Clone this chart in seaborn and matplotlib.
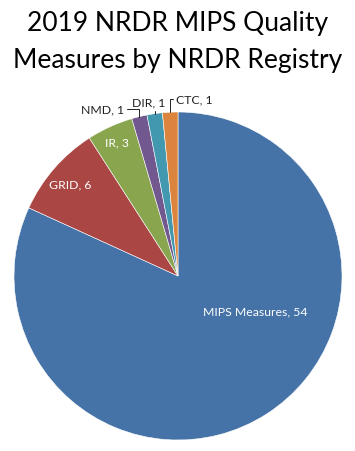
import numpy as np
import matplotlib
matplotlib.use("Agg")
import matplotlib.pyplot as plt
import seaborn as sns

registries = ["MIPS Measures", "GRID", "IR", "NMD", "DIR", "CTC"]
measures = [54, 6, 3, 1, 1, 1]
colors = ["#4572A7", "#AA4643", "#89A54E", "#71588F", "#4198AF", "#DB843D"]

sns.set_theme(style="white")
plt.rcParams['font.family'] = ['Lato', 'DejaVu Sans']

fig = plt.figure(figsize=(3.55, 4.52), dpi=100)
fig.patch.set_facecolor("white")
ax = fig.add_axes([14 / 355, 11 / 452, 328 / 355, 328 / 452])

wedges, _ = ax.pie(measures, colors=colors, startangle=90, counterclock=False,
                   radius=1.0, wedgeprops=dict(edgecolor="white", linewidth=0.4))
ax.set_xlim(-1, 1)
ax.set_ylim(-1, 1)
ax.set_aspect("equal")
ax.axis("off")

labels = [f"{r}, {v}" for r, v in zip(registries, measures)]

# etichette interne (bianche)
inner_pos = {0: (0.47, -0.21), 1: (-0.66, 0.56), 2: (-0.37, 0.82)}
for i, (x, y) in inner_pos.items():
    ax.text(x, y, labels[i], color="white", fontsize=8.8, ha="center", va="center")

# etichette esterne con linee guida
outer_pos = {3: (-0.46, 1.02), 4: (-0.18, 1.06), 5: (0.10, 1.08)}
for i, (x, y) in outer_pos.items():
    w = wedges[i]
    mid = np.deg2rad((w.theta1 + w.theta2) / 2)
    px, py = np.cos(mid), np.sin(mid)
    ax.annotate(labels[i], xy=(px, py), xytext=(x, y), fontsize=8.8,
                color="#222222", ha="center", va="center",
                arrowprops=dict(arrowstyle="-", color="#222222", lw=0.7,
                                shrinkA=0, shrinkB=0,
                                connectionstyle="angle,angleA=0,angleB=90,rad=0"),
                annotation_clip=False)

fig.text(0.5, 0.947, "2019 NRDR MIPS Quality", ha="center", va="center",
         fontsize=19, color="black")
fig.text(0.5, 0.867, "Measures by NRDR Registry", ha="center", va="center",
         fontsize=19, color="black")

fig.savefig("out.png", dpi=100, facecolor="white")
plt.close(fig)
